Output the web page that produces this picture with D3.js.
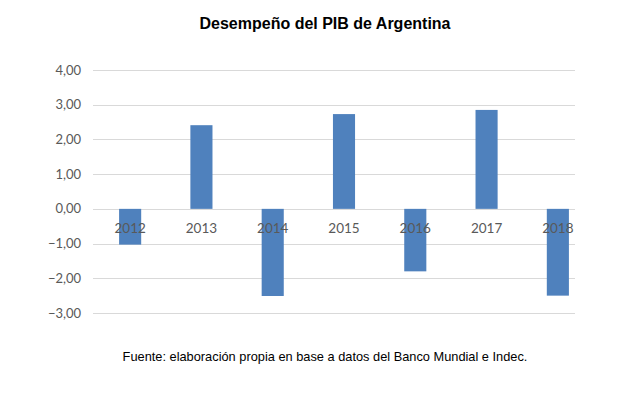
<!DOCTYPE html>
<html>
<head>
<meta charset="utf-8">
<script src="https://cdn.jsdelivr.net/npm/d3@7"></script>
<style>
  body { margin: 0; background: #fff; }
</style>
</head>
<body>
<div id="chart"></div>
<script>
// Crecimiento del PIB, % anual
const years = ["2012", "2013", "2014", "2015", "2016", "2017", "2018"];
const growth = [-1.03, 2.41, -2.51, 2.73, -1.80, 2.85, -2.50];
const yTicks = [-3, -2, -1, 0, 1, 2, 3, 4];

const W = 626, H = 396;
const svg = d3.select("#chart").append("svg")
  .attr("width", W).attr("height", H);

const x = d3.scaleBand().domain(years).range([94.5, 593.5]).paddingInner(0.69).paddingOuter(0.345);
const y = d3.scaleLinear().domain([-3, 4]).range([313, 70]);
const fmt = d => d3.format(".2f")(d).replace(".", ",");

//gridlines
svg.append("g").selectAll("line")
  .data(yTicks)
  .join("line")
  .attr("x1", 93).attr("x2", 575)
  .attr("y1", d => Math.round(y(d)) + 0.5).attr("y2", d => Math.round(y(d)) + 0.5)
  .attr("stroke", "#d9d9d9").attr("stroke-width", 1);

//y axis labels
svg.append("g").selectAll("text")
  .data(yTicks)
  .join("text")
  .attr("x", 81).attr("y", d => y(d))
  .attr("dy", "0.35em")
  .attr("text-anchor", "end")
  .attr("font-family", "Lato, 'Open Sans', sans-serif")
  .attr("font-size", 13)
  .attr("fill", "#595959")
  .text(fmt);

//bars
svg.append("g").selectAll("rect")
  .data(growth)
  .join("rect")
  .attr("x", (d, i) => x(years[i]))
  .attr("width", x.bandwidth())
  .attr("y", d => y(Math.max(0, d)))
  .attr("height", d => Math.abs(y(d) - y(0)))
  .attr("fill", "#4f81bd");

//category labels sit on the zero line, over the bars
svg.append("g").selectAll("text")
  .data(years)
  .join("text")
  .attr("x", d => x(d) + x.bandwidth() / 2)
  .attr("y", y(0) + 24)
  .attr("text-anchor", "middle")
  .attr("font-family", "Lato, 'Open Sans', sans-serif")
  .attr("font-size", 13.5)
  .attr("fill", "#595959")
  .text(d => d);

svg.append("text")
  .attr("x", 325).attr("y", 29)
  .attr("text-anchor", "middle")
  .attr("font-family", "'Liberation Sans', Arial, sans-serif")
  .attr("font-size", 16)
  .attr("font-weight", "bold")
  .attr("fill", "#000")
  .text("Desempeño del PIB de Argentina");

svg.append("text")
  .attr("x", 325).attr("y", 361)
  .attr("text-anchor", "middle")
  .attr("font-family", "'Liberation Sans', Arial, sans-serif")
  .attr("font-size", 12.8)
  .attr("fill", "#000")
  .text("Fuente: elaboración propia en base a datos del Banco Mundial e Indec.");
</script>
</body>
</html>
